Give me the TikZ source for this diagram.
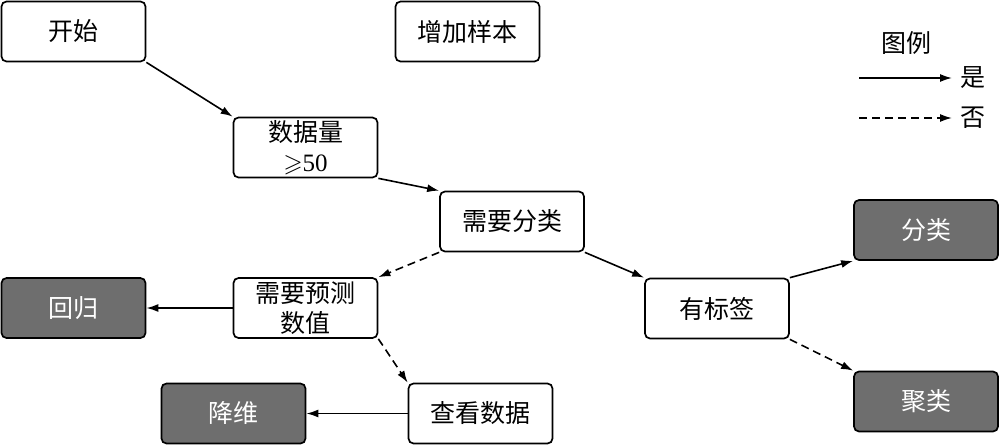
\documentclass[tikz,border=0pt]{standalone}
\usepackage{amssymb}
\usepackage{fontspec}
\setmainfont{Liberation Serif}
\newfontfamily\cjk{Noto Sans CJK SC}
\usetikzlibrary{arrows.meta}
\begin{document}
\begin{tikzpicture}[x=1pt,y=-1pt]
\tikzset{
 box/.style={draw, line width=1.7pt, rounded corners=5pt, minimum width=144pt, minimum height=60pt, inner sep=0pt, align=center, font=\cjk\fontsize{25}{30}\selectfont, fill=white},
 dark/.style={box, fill=black!57, text=white},
 yes/.style={-{Latex[length=12pt,width=8pt]}, line width=1.6pt},
 no/.style={yes, dash pattern=on 8pt off 5pt},
 lgtext/.style={font=\cjk\fontsize{25}{30}\selectfont, inner sep=0pt}
}
\useasboundingbox (0,0) rectangle (1000,445);
\node[box] (start) at (73.5,31.5) {开始};
\node[box] (add) at (467.5,31.5) {增加样本};
\node[box] (amount) at (305.5,147.5) {数据量\\{\rmfamily$\geqslant$50}};
\node[box] (needcls) at (512,221.5) {需要分类};
\node[box] (pred) at (305.5,308) {需要预测\\数值};
\node[box] (label) at (717,308.5) {有标签};
\node[dark] (classify) at (926,230) {分类};
\node[dark] (cluster) at (926,401.5) {聚类};
\node[dark] (regress) at (73.5,308) {回归};
\node[box] (look) at (480.5,413.5) {查看数据};
\node[dark] (reduce) at (233.5,413.5) {降维};

\draw[yes] (start.south east) -- (amount.north west);
\draw[yes] (amount.south east) -- (needcls.north west);
\draw[yes] (needcls.south east) -- (label.north west);
\draw[yes] (label.north east) -- (classify.south west);
\draw[no] (label.south east) -- (cluster.north west);
\draw[no] (needcls.south west) -- (pred.north east);
\draw[yes] (pred.west) -- (regress.east);
\draw[no] (pred.south east) -- (look.north west);
\draw[yes] (look.west) -- (reduce.east);

\node[lgtext] (lgtitle) at (906,43) {图例};
\coordinate (l1s) at (859,78);
\coordinate (l1e) at (952,78);
\coordinate (l2s) at (859,118);
\coordinate (l2e) at (952,118);
\draw[yes] (l1s) -- (l1e);
\draw[no] (l2s) -- (l2e);
\node[lgtext] (lyes) at (973,78) {是};
\node[lgtext] (lno) at (973,118) {否};
\end{tikzpicture}
\end{document}
